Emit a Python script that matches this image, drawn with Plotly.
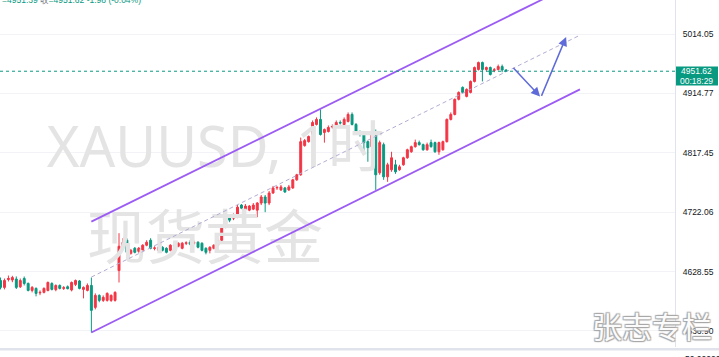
import math
import plotly.graph_objects as go

# ---- data (hourly XAUUSD candles) ----
opens = [4614.7, 4604.0, 4616.2, 4615.5, 4617.0, 4605.0, 4617.8, 4610.1, 4599.3, 4602.4,
         4595.5, 4596.3, 4599.3, 4610.0, 4600.5, 4607.0, 4602.4, 4605.0, 4600.0, 4608.6,
         4614.0, 4600.9, 4599.3, 4607.0, 4573.1, 4591.6, 4583.9, 4583.9, 4583.9, 4583.9,
         4630.1, 4668.2, 4677.7, 4657.1, 4665.0, 4660.2, 4661.8, 4669.8, 4677.7, 4665.0,
         4661.8, 4666.6, 4665.0, 4661.8, 4669.8, 4668.2, 4665.0, 4672.9, 4674.5, 4673.0,
         4674.5, 4672.9, 4665.0, 4661.8, 4665.0, 4669.8, 4677.7, 4698.3, 4714.1, 4712.6,
         4714.1, 4733.4, 4726.9, 4725.3, 4726.9, 4725.3, 4736.6, 4746.3, 4736.6, 4752.7,
         4760.8, 4757.6, 4760.8, 4757.6, 4760.8, 4773.8, 4781.9, 4829.1, 4835.6, 4847.2,
         4863.6, 4871.9, 4850.5, 4852.1, 4859.5, 4860.3, 4866.9, 4863.6, 4868.6, 4880.1,
         4863.6, 4852.1, 4850.5, 4835.6, 4827.4, 4852.1, 4785.1, 4830.7, 4778.6, 4790.0,
         4798.0, 4790.0, 4798.0, 4809.4, 4819.1, 4827.4, 4834.0, 4830.7, 4822.4, 4834.0,
         4834.0, 4819.1, 4822.4, 4835.6, 4871.9, 4880.1, 4904.9, 4924.7, 4909.8, 4916.4,
         4934.6, 4954.5, 4966.1, 4954.5, 4957.8, 4953.0, 4954.5, 4959.4, 4953.6]
highs = [4619.3, 4617.8, 4622.4, 4622.0, 4621.0, 4617.8, 4620.9, 4611.6, 4606.0, 4604.0,
         4599.3, 4604.0, 4613.2, 4612.0, 4608.6, 4608.6, 4606.0, 4607.0, 4613.2, 4616.2,
         4615.5, 4605.5, 4610.1, 4619.3, 4594.7, 4593.2, 4591.6, 4596.3, 4593.2, 4598.0,
         4688.8, 4680.9, 4680.9, 4664.0, 4667.0, 4667.0, 4671.4, 4677.7, 4680.9, 4668.2,
         4669.8, 4668.2, 4666.6, 4671.4, 4672.9, 4674.5, 4675.0, 4676.0, 4677.7, 4677.0,
         4676.1, 4674.5, 4666.6, 4668.2, 4671.4, 4680.9, 4698.3, 4717.3, 4717.3, 4720.0,
         4733.4, 4735.0, 4735.0, 4733.4, 4736.6, 4738.2, 4749.5, 4749.5, 4755.9, 4764.0,
         4764.0, 4765.6, 4762.4, 4765.6, 4775.4, 4783.5, 4842.2, 4840.0, 4845.5, 4870.2,
         4875.2, 4888.4, 4857.0, 4862.0, 4863.6, 4870.2, 4870.2, 4875.2, 4883.4, 4883.4,
         4866.0, 4853.8, 4852.1, 4837.3, 4852.1, 4855.4, 4837.3, 4834.0, 4801.3, 4819.1,
         4806.1, 4798.0, 4811.0, 4824.1, 4829.1, 4838.9, 4837.3, 4832.4, 4834.0, 4838.9,
         4835.6, 4835.6, 4837.3, 4873.5, 4883.4, 4906.5, 4918.1, 4926.4, 4923.1, 4936.2,
         4959.4, 4967.7, 4967.7, 4959.4, 4959.4, 4957.0, 4962.7, 4962.7, 4955.0]
lows = [4600.9, 4600.9, 4613.2, 4612.0, 4601.5, 4603.0, 4607.0, 4597.8, 4596.3, 4590.1,
        4592.0, 4594.7, 4597.8, 4599.3, 4598.0, 4600.9, 4600.0, 4600.9, 4597.8, 4606.0,
        4601.0, 4587.0, 4597.8, 4534.6, 4570.0, 4581.0, 4581.5, 4582.0, 4581.5, 4582.0,
        4611.6, 4665.0, 4655.5, 4655.0, 4657.1, 4658.0, 4660.2, 4668.2, 4663.4, 4661.8,
        4660.2, 4660.2, 4657.1, 4660.2, 4666.6, 4666.6, 4663.4, 4670.0, 4669.8, 4671.0,
        4665.0, 4660.2, 4655.5, 4657.1, 4663.4, 4668.2, 4676.1, 4696.7, 4706.2, 4709.4,
        4712.6, 4726.9, 4725.3, 4723.7, 4725.3, 4714.1, 4733.4, 4722.1, 4733.4, 4751.1,
        4757.6, 4755.9, 4752.7, 4755.9, 4759.2, 4772.2, 4780.3, 4827.4, 4834.0, 4845.5,
        4862.0, 4845.5, 4834.0, 4850.5, 4857.0, 4858.7, 4863.6, 4862.0, 4867.0, 4862.0,
        4850.5, 4843.9, 4817.5, 4802.9, 4824.1, 4757.6, 4781.9, 4773.8, 4770.6, 4786.7,
        4783.5, 4788.4, 4796.4, 4807.8, 4817.5, 4825.8, 4829.1, 4820.8, 4820.8, 4825.8,
        4817.5, 4814.2, 4820.8, 4834.0, 4870.2, 4878.5, 4903.2, 4914.8, 4908.2, 4914.8,
        4933.0, 4952.8, 4934.6, 4951.2, 4944.5, 4950.0, 4952.8, 4950.0, 4951.39]
closes = [4604.0, 4614.7, 4617.8, 4619.3, 4604.0, 4614.7, 4610.1, 4599.3, 4604.0, 4594.7,
          4596.3, 4602.4, 4611.6, 4600.9, 4607.0, 4602.4, 4603.5, 4602.0, 4611.6, 4614.7,
          4602.4, 4604.0, 4607.0, 4568.5, 4591.6, 4583.9, 4588.6, 4594.7, 4591.6, 4596.3,
          4668.2, 4674.5, 4658.7, 4661.8, 4658.7, 4665.0, 4669.8, 4674.5, 4665.0, 4665.5,
          4666.6, 4661.8, 4658.7, 4669.8, 4669.0, 4672.9, 4672.9, 4673.5, 4671.4, 4674.0,
          4666.6, 4661.8, 4658.7, 4666.6, 4669.8, 4677.7, 4696.7, 4714.1, 4709.4, 4717.3,
          4730.1, 4728.5, 4731.8, 4731.8, 4733.4, 4736.6, 4746.3, 4736.6, 4752.7, 4760.8,
          4761.5, 4762.4, 4754.4, 4762.4, 4773.8, 4781.9, 4835.6, 4837.3, 4843.9, 4866.9,
          4871.9, 4847.2, 4855.4, 4858.7, 4860.3, 4866.9, 4866.0, 4871.9, 4880.1, 4863.6,
          4852.1, 4847.2, 4834.0, 4825.8, 4850.5, 4781.9, 4834.0, 4778.6, 4798.0, 4809.4,
          4786.7, 4794.8, 4809.4, 4822.4, 4827.4, 4834.0, 4830.7, 4822.4, 4830.7, 4827.4,
          4819.1, 4834.0, 4835.6, 4871.9, 4880.1, 4904.9, 4916.4, 4916.4, 4921.4, 4934.6,
          4957.8, 4966.1, 4954.5, 4957.8, 4946.2, 4954.0, 4959.4, 4953.6, 4951.62]
bar_index = list(range(len(opens)))

last_low = 4951.39
last_close = 4951.62
last_change = -1.98
last_change_pct = -0.04
countdown = "00:18:29"

# price-axis tick labels
tick_values = [4536.90, 4628.55, 4722.06, 4817.45, 4914.77, 5014.05]
tick_labels = ["4536.90", "4628.55", "4722.06", "4817.45", "4914.77", "5014.05"]

# drawn parallel channel (bar index, price)
channel_x = [23, 146.7]
channel_upper = [4707.0, 5104.5]
channel_mid = [4620.0, 5012.1]
channel_lower = [4534.6, 4921.4]

# projected path arrows (bar index, price)
arrow1 = dict(x0=129.5, p0=4959.4, x1=136.6, p1=4909.8)
arrow2 = dict(x0=136.8, p0=4908.2, x1=143.2, p1=5009.1)

UP = "#f23645"
DOWN = "#089981"
PURPLE = "#9c5cf4"
X_RANGE = [-0.13, 170.76]
Y_RANGE = [math.log10(4512.5), math.log10(5071.8)]
PLOT_W, PLOT_H = 675, 347

fig = go.Figure()

# watermark (under the candles)
fig.add_trace(go.Scatter(x=[54.4], y=[4817.0], mode="text", text=["XAUUSD, 1时"],
                         textfont=dict(size=56, color="#e4e4e4", family="Noto Sans, Noto Sans CJK SC"),
                         hoverinfo="skip", showlegend=False))
fig.add_trace(go.Scatter(x=[51.8], y=[4671.3], mode="text", text=["现货黄金"],
                         textfont=dict(size=59, color="#e4e4e4", family="Noto Sans CJK SC"),
                         hoverinfo="skip", showlegend=False))

# channel
fig.add_trace(go.Scatter(x=channel_x, y=channel_mid, mode="lines",
                         line=dict(color="#b3acd3", width=1, dash="4px,3px"),
                         hoverinfo="skip", showlegend=False))
fig.add_trace(go.Scatter(x=channel_x, y=channel_upper, mode="lines",
                         line=dict(color=PURPLE, width=1.8), hoverinfo="skip", showlegend=False))
fig.add_trace(go.Scatter(x=channel_x, y=channel_lower, mode="lines",
                         line=dict(color=PURPLE, width=1.8), hoverinfo="skip", showlegend=False))

# last price dotted line
fig.add_trace(go.Scatter(x=X_RANGE, y=[last_close, last_close], mode="lines",
                         line=dict(color=DOWN, width=1, dash="dot"),
                         hoverinfo="skip", showlegend=False))

fig.add_trace(go.Candlestick(
    x=bar_index, open=opens, high=highs, low=lows, close=closes,
    increasing=dict(line=dict(color=UP, width=1), fillcolor=UP),
    decreasing=dict(line=dict(color=DOWN, width=1), fillcolor=DOWN),
    whiskerwidth=0, showlegend=False))

annotations = []
for a in (arrow1, arrow2):
    annotations.append(dict(x=a["x1"], y=math.log10(a["p1"]), ax=a["x0"], ay=math.log10(a["p0"]),
                            xref="x", yref="y", axref="x", ayref="y", text="", showarrow=True,
                            arrowhead=2, arrowsize=1.2, arrowwidth=1.5, arrowcolor="#5f6bd8"))

# header text (cut at top, as in the screenshot)
annotations.append(dict(
    x=0, y=1, xref="paper", yref="paper", xanchor="left", yanchor="middle", showarrow=False,
    text=(f"=<span style='color:{DOWN}'>{last_low:.2f}</span> "
          f"<span style='color:#787b86'>收</span><span style='color:{DOWN}'>={last_close:.2f} "
          f"{last_change:.2f} ({last_change_pct:.2f}%)</span>"),
    font=dict(size=8.5, color=DOWN, family="Liberation Sans, Noto Sans CJK SC")))

# last price label on axis
annotations.append(dict(x=697 / PLOT_W, y=1 - 71.5 / PLOT_H, xref="paper", yref="paper",
                        xanchor="center", yanchor="middle",
                        text=f"{last_close:.2f}", showarrow=False,
                        font=dict(size=8.5, color="white", family="Liberation Sans")))
annotations.append(dict(x=697 / PLOT_W, y=1 - 81 / PLOT_H, xref="paper", yref="paper",
                        xanchor="center", yanchor="middle",
                        text=countdown, showarrow=False,
                        font=dict(size=8.5, color="white", family="Liberation Sans")))

annotations.append(dict(x=683 / PLOT_W, y=-(352 - PLOT_H) / PLOT_H, xref="paper", yref="paper",
                        xanchor="left", yanchor="top", text="50.00000", showarrow=False,
                        font=dict(size=8.5, color="#131722", family="Liberation Sans")))

annotations.append(dict(x=652 / PLOT_W, y=1 - 325 / PLOT_H, xref="paper", yref="paper",
                        xanchor="center", yanchor="middle",
                        text="张志专栏", showarrow=False,
                        font=dict(size=30, color="#fbfbfb", family="Noto Sans CJK SC",
                                  shadow="1px 1px 1px #a8a8a8, -1px -1px 1px #a8a8a8, 1px -1px 1px #a8a8a8, -1px 1px 1px #a8a8a8")))

shapes = [
    dict(type="rect", xref="paper", yref="paper", x0=676 / PLOT_W, x1=718 / PLOT_W,
         y0=1 - 85.5 / PLOT_H, y1=1 - 66.5 / PLOT_H, fillcolor=DOWN, line=dict(width=0)),
    dict(type="rect", xref="paper", yref="paper", x0=0, x1=719 / PLOT_W,
         y0=-3.5 / PLOT_H, y1=-1 / PLOT_H, fillcolor="#e0e3eb", line=dict(width=0)),
]

fig.update_layout(
    width=719, height=357,
    margin=dict(l=0, r=44, t=0, b=10),
    paper_bgcolor="white", plot_bgcolor="white",
    showlegend=False,
    annotations=annotations, shapes=shapes,
    xaxis=dict(range=X_RANGE, showticklabels=False, showgrid=False, zeroline=False,
               rangeslider=dict(visible=False), fixedrange=True),
    yaxis=dict(type="log", side="right", range=Y_RANGE, tickvals=tick_values, ticktext=tick_labels,
               tickfont=dict(size=8.5, color="#131722", family="Liberation Sans"),
               showgrid=True, gridcolor="#f2f3f6", gridwidth=1, zeroline=False,
               showline=True, linecolor="#e0e3eb", linewidth=1, ticks="",
               ticklabelstandoff=5, fixedrange=True),
)

fig.write_html("out.html", config={"displayModeBar": False},
               post_script="document.body.style.margin='0';document.body.style.overflow='hidden';")
